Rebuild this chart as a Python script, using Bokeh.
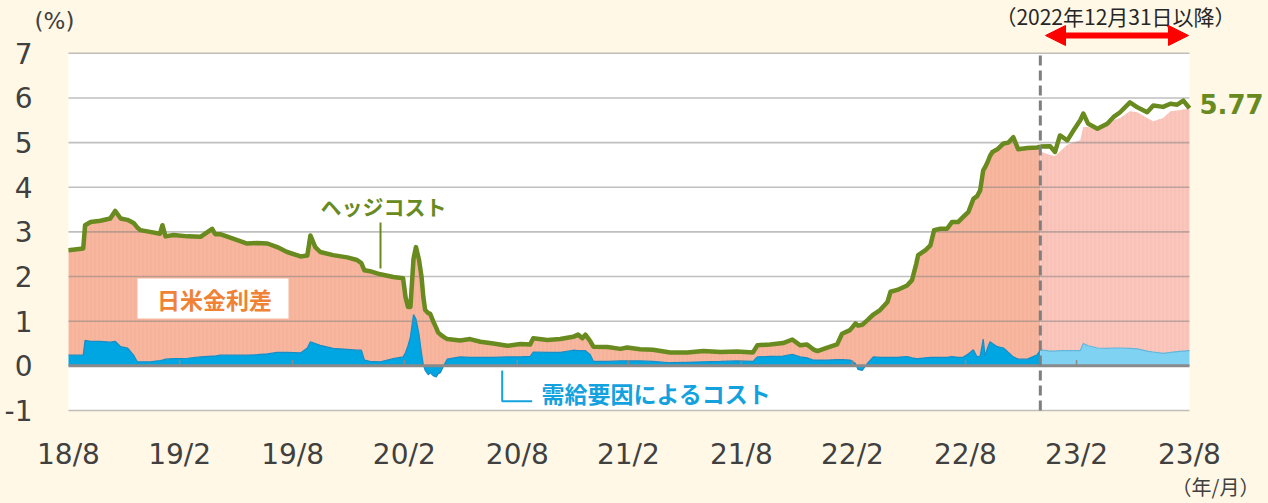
import numpy as np
import pandas as pd
from bokeh.plotting import figure
from bokeh.models import (Range1d, FixedTicker, DatetimeTickFormatter, Label,
                          Arrow, NormalHead, BoxAnnotation)
from bokeh.embed import file_html
from bokeh.resources import INLINE

# ---------------- data ----------------
pre_dates = [
    "2018-08-31", "2018-09-24", "2018-09-27", "2018-10-06", "2018-10-22", "2018-11-07", "2018-11-15",
    "2018-11-24", "2018-12-05", "2018-12-15", "2018-12-21", "2018-12-26", "2019-01-11", "2019-01-27",
    "2019-01-31", "2019-02-05", "2019-02-18", "2019-03-13", "2019-04-03", "2019-04-22", "2019-04-27",
    "2019-05-05", "2019-05-26", "2019-06-18", "2019-07-04", "2019-07-21", "2019-08-06", "2019-08-22",
    "2019-09-13", "2019-09-24", "2019-09-29", "2019-10-07", "2019-10-15", "2019-11-05", "2019-11-28",
    "2019-12-14", "2019-12-21", "2019-12-26", "2020-01-04", "2020-01-21", "2020-02-11", "2020-02-27",
    "2020-03-02", "2020-03-06", "2020-03-10", "2020-03-15", "2020-03-19", "2020-03-24", "2020-03-28",
    "2020-03-31", "2020-04-03", "2020-04-08", "2020-04-11", "2020-04-16", "2020-04-21", "2020-04-24",
    "2020-04-28", "2020-05-03", "2020-05-09", "2020-05-30", "2020-06-15", "2020-07-02", "2020-07-23",
    "2020-08-15", "2020-09-05", "2020-09-21", "2020-09-26", "2020-10-19", "2020-11-09", "2020-11-30",
    "2020-12-08", "2020-12-15", "2020-12-20", "2020-12-28", "2021-01-02", "2021-01-25", "2021-02-15",
    "2021-02-26", "2021-03-19", "2021-04-09", "2021-05-07", "2021-06-04", "2021-06-30", "2021-07-28",
    "2021-08-24", "2021-09-19", "2021-09-26", "2021-10-17", "2021-11-07", "2021-11-22", "2021-12-05",
    "2021-12-16", "2021-12-26", "2022-01-02", "2022-01-18", "2022-02-03", "2022-02-11", "2022-02-24",
    "2022-03-05", "2022-03-09", "2022-03-16", "2022-03-24", "2022-04-03", "2022-04-14", "2022-04-26",
    "2022-05-01", "2022-05-12", "2022-05-28", "2022-06-05", "2022-06-12", "2022-06-15", "2022-06-27",
    "2022-07-05", "2022-07-11", "2022-07-21", "2022-08-01", "2022-08-09", "2022-08-19", "2022-08-27",
    "2022-09-05", "2022-09-13", "2022-09-19", "2022-09-24", "2022-09-29", "2022-10-02", "2022-10-06",
    "2022-10-10", "2022-10-14", "2022-10-22", "2022-11-01", "2022-11-09", "2022-11-17", "2022-11-25",
    "2022-12-10", "2022-12-26", "2022-12-31",
]
pre_hedge_cost = [
    2.59, 2.63, 3.15, 3.22, 3.25, 3.30, 3.47,
    3.30, 3.27, 3.20, 3.10, 3.04, 3.00, 2.96,
    3.15, 2.90, 2.93, 2.90, 2.89, 3.07, 2.95,
    2.95, 2.85, 2.74, 2.75, 2.74, 2.66, 2.55,
    2.45, 2.47, 2.92, 2.66, 2.55, 2.48, 2.43,
    2.37, 2.30, 2.14, 2.12, 2.05, 1.99, 1.96,
    1.54, 1.32, 1.32, 2.40, 2.66, 2.37, 2.00,
    1.54, 1.25, 1.18, 1.17, 1.00, 0.85, 0.75,
    0.70, 0.65, 0.60, 0.57, 0.60, 0.54, 0.50,
    0.45, 0.49, 0.48, 0.62, 0.58, 0.60, 0.65,
    0.70, 0.62, 0.70, 0.55, 0.43, 0.42, 0.38,
    0.41, 0.37, 0.36, 0.30, 0.30, 0.33, 0.31,
    0.32, 0.30, 0.46, 0.48, 0.51, 0.59, 0.46,
    0.48, 0.37, 0.33, 0.41, 0.48, 0.72, 0.80,
    0.95, 0.90, 0.92, 1.02, 1.15, 1.25, 1.43,
    1.66, 1.70, 1.80, 1.92, 2.29, 2.48, 2.59,
    2.70, 3.04, 3.07, 3.07, 3.22, 3.22, 3.33,
    3.45, 3.74, 3.80, 3.93, 4.38, 4.45, 4.56,
    4.70, 4.79, 4.85, 4.98, 5.00, 5.12, 4.85,
    4.88, 4.89, 4.91,
]
pre_supply_cost = [
    0.24, 0.24, 0.57, 0.55, 0.55, 0.53, 0.55,
    0.43, 0.40, 0.24, 0.09, 0.09, 0.09, 0.12,
    0.13, 0.15, 0.16, 0.17, 0.20, 0.22, 0.22,
    0.24, 0.24, 0.24, 0.25, 0.27, 0.30, 0.30,
    0.29, 0.40, 0.54, 0.50, 0.46, 0.39, 0.37,
    0.35, 0.35, 0.13, 0.10, 0.09, 0.16, 0.20,
    0.30, 0.45, 0.65, 1.15, 1.05, 0.70, 0.28,
    0.02, -0.10, -0.20, -0.15, -0.22, -0.25, -0.18,
    -0.15, 0.00, 0.15, 0.20, 0.19, 0.19, 0.19,
    0.20, 0.20, 0.21, 0.31, 0.30, 0.30, 0.35,
    0.34, 0.34, 0.34, 0.25, 0.10, 0.10, 0.11,
    0.11, 0.11, 0.10, 0.07, 0.08, 0.09, 0.10,
    0.11, 0.10, 0.20, 0.21, 0.22, 0.26, 0.20,
    0.18, 0.13, 0.13, 0.13, 0.14, 0.14, 0.13,
    0.05, -0.08, -0.10, 0.05, 0.20, 0.19, 0.19,
    0.19, 0.19, 0.21, 0.18, 0.16, 0.16, 0.18,
    0.19, 0.19, 0.19, 0.19, 0.21, 0.19, 0.19,
    0.27, 0.36, 0.20, 0.22, 0.60, 0.22, 0.40,
    0.54, 0.50, 0.43, 0.40, 0.30, 0.20, 0.15,
    0.15, 0.25, 0.36,
]

post_dates = [
    "2022-12-31", "2023-01-16", "2023-01-24", "2023-02-01", "2023-02-13", "2023-02-23", "2023-03-06",
    "2023-03-11", "2023-03-19", "2023-04-03", "2023-04-19", "2023-04-29", "2023-05-10", "2023-05-26",
    "2023-06-07", "2023-06-23", "2023-07-03", "2023-07-19", "2023-07-31", "2023-08-11", "2023-08-21",
    "2023-08-31",
]
post_hedge_cost = [
    4.91, 4.92, 4.79, 5.16, 5.05, 5.27, 5.50,
    5.65, 5.42, 5.31, 5.42, 5.57, 5.68, 5.90,
    5.79, 5.68, 5.83, 5.80, 5.87, 5.85, 5.94,
    5.77,
]
post_supply_cost = [
    0.36, 0.33, 0.33, 0.34, 0.34, 0.34, 0.34,
    0.50, 0.45, 0.40, 0.39, 0.40, 0.40, 0.39,
    0.38, 0.33, 0.31, 0.28, 0.30, 0.32, 0.33,
    0.34,
]
post_rate_diff_top = [
    4.80, 4.72, 4.70, 4.80, 4.95, 5.00, 5.05,
    5.35, 5.35, 5.28, 5.38, 5.50, 5.55, 5.70,
    5.68, 5.55, 5.48, 5.55, 5.70, 5.72, 5.74,
    5.75,
]

split_date = "2022-12-31"
start_date, end_date = "2018-08-31", "2023-08-31"
tick_dates = ["2018-08-31", "2019-02-28", "2019-08-31", "2020-02-29", "2020-08-31", "2021-02-28",
              "2021-08-31", "2022-02-28", "2022-08-31", "2023-02-28", "2023-08-31"]
tick_labels = ["18/8", "19/2", "19/8", "20/2", "20/8", "21/2", "21/8", "22/2", "22/8", "23/2", "23/8"]
y_ticks = [-1, 0, 1, 2, 3, 4, 5, 6, 7]
y_tick_labels = ["-1", "0", "1", "2", "3", "4", "5", "6", "7"]

# ---------------- styles / layout ----------------
CREAM = "#FFF8E6"
GREEN = "#688A1E"
BLUE = "#00A6E2"
BLUE_EDGE = "#1A8CC4"
BLUE_LIGHT = "#80D2F2"
BLUE_LIGHT_EDGE = "#62B6DA"
PINK = "#F8B69E"
PINK_LIGHT = "#FBC6BC"
ORANGE = "#EF8234"
LABEL_BLUE = "#14A2DF"
TEXT = "#404040"
JP = "Noto Sans CJK JP"
NUM = "DejaVu Sans"

W, H = 1268, 503
PLOT_L, PLOT_R, PLOT_T, PLOT_B = 68, 1189, 52.8, 410


def ms(d):
    return pd.Timestamp(d).value // 10**6


x0_ms, x1_ms = ms(start_date), ms(end_date)
xpp = (x1_ms - x0_ms) / (PLOT_R - PLOT_L)
ypp = (y_ticks[-1] - y_ticks[0]) / (PLOT_B - PLOT_T)


def px(xp):  # page pixel -> x data (annotation placement only)
    return x0_ms + (xp - PLOT_L) * xpp


def py(yp):  # page pixel -> y data (annotation placement only)
    return y_ticks[-1] - (yp - PLOT_T) * ypp


pre_x = pd.to_datetime(pre_dates)
post_x = pd.to_datetime(post_dates)
pre_h = np.array(pre_hedge_cost)
pre_s = np.array(pre_supply_cost)
post_h = np.array(post_hedge_cost)
post_s = np.array(post_supply_cost)
post_r = np.array(post_rate_diff_top)

p = figure(width=W, height=H, x_axis_type="datetime",
           x_range=Range1d(x0_ms - PLOT_L * xpp, x1_ms + (W - PLOT_R) * xpp),
           y_range=Range1d(y_ticks[0] - (H - PLOT_B) * ypp, y_ticks[-1] + PLOT_T * ypp),
           output_backend="svg", toolbar_location=None,
           min_border_left=0, min_border_right=0, min_border_top=0, min_border_bottom=0)
p.background_fill_color = CREAM
p.border_fill_color = CREAM
p.outline_line_color = None
p.grid.visible = False

try:
    from bokeh.models import GlobalInlineStyleSheet
    p.stylesheets = [GlobalInlineStyleSheet(css="body { background-color: %s; }" % CREAM)]
except Exception:
    pass

# plot area
p.quad(left=[x0_ms], right=[x1_ms], bottom=[y_ticks[0]], top=[y_ticks[-1]],
       fill_color="white", line_color=None)

# areas: rate differential (stacked on supply/demand cost)
p.varea(x=pre_x, y1=np.maximum(pre_s, 0), y2=pre_h, fill_color=PINK,
        hatch_pattern="vertical_line", hatch_scale=4, hatch_color="#E9A38B",
        hatch_alpha=0.35, hatch_weight=1)
p.varea(x=post_x, y1=post_s, y2=post_r, fill_color=PINK_LIGHT,
        hatch_pattern="vertical_line", hatch_scale=4, hatch_color="#F0B0A4",
        hatch_alpha=0.35, hatch_weight=1)
# supply/demand cost
p.varea(x=pre_x, y1=0, y2=pre_s, fill_color=BLUE)
p.line(pre_x, pre_s, line_color=BLUE_EDGE, line_width=1.2)
p.varea(x=post_x, y1=0, y2=post_s, fill_color=BLUE_LIGHT)
p.line(post_x, post_s, line_color=BLUE_LIGHT_EDGE, line_width=1.2)

# gridlines over the areas
grid_y = [v for v in y_ticks if v != 0]
p.segment(x0=[x0_ms] * len(grid_y), y0=grid_y, x1=[x1_ms] * len(grid_y), y1=grid_y,
          line_color="#808080", line_alpha=0.5, line_width=1.6)
p.segment(x0=[x0_ms], y0=[0], x1=[x1_ms], y1=[0], line_color="#8A8A8A", line_width=3)
tick_ms = [ms(d) for d in tick_dates]
p.segment(x0=tick_ms[1:-1], y0=0, x1=tick_ms[1:-1], y1=0.13, line_color="#8A8A8A", line_width=1.5)

# hedge cost
p.line(pre_x, pre_h, line_color=GREEN, line_width=4.5, line_join="round")
p.line(post_x, post_h, line_color=GREEN, line_width=4.5, line_join="round")

# split marker
p.segment(x0=[ms(split_date)], y0=[y_ticks[0]], x1=[ms(split_date)], y1=[y_ticks[-1]],
          line_color="#7F7F7F", line_width=3, line_dash="10 5")

# axes (fixed at the plot-area edges)
xa = p.xaxis[0]
xa.fixed_location = y_ticks[0]
xa.ticker = FixedTicker(ticks=tick_ms)
fmt = "%y/%-m"
xa.formatter = DatetimeTickFormatter(microseconds=fmt, milliseconds=fmt, seconds=fmt, minsec=fmt,
                                     minutes=fmt, hourmin=fmt, hours=fmt, days=fmt, months=fmt, years=fmt)
xa.major_label_overrides = {float(t): lab for t, lab in zip(tick_ms, tick_labels)}
ya = p.yaxis[0]
ya.fixed_location = x0_ms
ya.ticker = FixedTicker(ticks=y_ticks)
ya.major_label_overrides = {t: lab for t, lab in zip(y_ticks, y_tick_labels)}
for ax in (xa, ya):
    ax.axis_line_color = None
    ax.major_tick_line_color = None
    ax.minor_tick_line_color = None
    ax.major_label_text_font = NUM
    ax.major_label_text_font_size = "28px"
    ax.major_label_text_color = TEXT
xa.major_label_standoff = 21
ya.major_label_standoff = 30

# ---------------- annotations ----------------
p.add_layout(Label(x=px(54), y=py(20), text="(%)", text_font=NUM, text_font_size="23px",
                   text_color=TEXT, text_align="center", text_baseline="middle"))
p.add_layout(Label(x=px(1215), y=py(486), text="（年/月）", text_font=JP, text_font_size="20px",
                   text_color=TEXT, text_align="center", text_baseline="middle"))
p.add_layout(Label(x=px(1115), y=py(15), text="（2022年12月31日以降）", text_font=JP,
                   text_font_size="21px", text_color="#262626", text_align="center",
                   text_baseline="middle"))
p.add_layout(Arrow(x_start=px(1045), y_start=py(35), x_end=px(1188), y_end=py(35),
                   line_color="#FF0000", line_width=6,
                   start=NormalHead(size=20, fill_color="#FF0000", line_color="#FF0000"),
                   end=NormalHead(size=20, fill_color="#FF0000", line_color="#FF0000")))

# last value label
p.add_layout(Label(x=ms(post_dates[-1]), y=post_hedge_cost[-1], x_offset=10, y_offset=4,
                   text=f"{post_hedge_cost[-1]:.2f}", text_font=NUM, text_font_style="bold",
                   text_font_size="26px", text_color=GREEN, text_baseline="middle"))

# series labels
p.add_layout(Label(x=px(383), y=py(205), text="ヘッジコスト", text_font=JP,
                   text_font_style="bold", text_font_size="21px", text_color=GREEN,
                   text_align="center", text_baseline="middle"))
p.segment(x0=[px(380)], y0=[py(222)], x1=[px(380)], y1=[py(268)], line_color=GREEN, line_width=2)

p.add_layout(BoxAnnotation(left=px(137), right=px(288), bottom=py(318), top=py(278),
                           fill_color="white", fill_alpha=1, line_color=None))
p.add_layout(Label(x=px(214), y=py(298), text="日米金利差", text_font=JP,
                   text_font_style="bold", text_font_size="23px", text_color=ORANGE,
                   text_align="center", text_baseline="middle"))

p.add_layout(Label(x=px(656), y=py(392), text="需給要因によるコスト", text_font=JP,
                   text_font_style="bold", text_font_size="23px", text_color=LABEL_BLUE,
                   text_align="center", text_baseline="middle"))
p.multi_line(xs=[[px(501.7), px(501.7), px(531.7)]], ys=[[py(370), py(400.7), py(400.7)]],
             line_color=LABEL_BLUE, line_width=2)

open("out.html", "w").write(file_html(p, INLINE))
